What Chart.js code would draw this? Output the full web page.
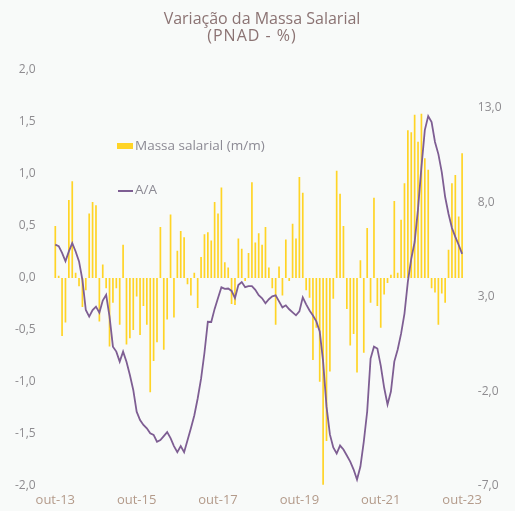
<!DOCTYPE html>
<html>
<head>
<meta charset="utf-8">
<script src="https://cdn.jsdelivr.net/npm/chart.js@4"></script>
<style>
    body { margin: 0; background: #f8faf9; }
    .wrap { width: 515px; height: 511px; position: relative; }
</style>
</head>
<body>
<div class="wrap"><canvas id="massaChart"></canvas></div>
<script>
// Massa salarial (PNAD), mensal de out-13 a out-23
const meses = ['jan', 'fev', 'mar', 'abr', 'mai', 'jun', 'jul', 'ago', 'set', 'out', 'nov', 'dez'];
const tickLabels = ['out-13', 'out-15', 'out-17', 'out-19', 'out-21', 'out-23'];

// variação mês contra mês (%)
const massaMM = [
    0.50, 0.02, -0.56, -0.43, 0.75, 0.93, 0.05, -0.08, -0.28, -0.12, 0.62, 0.73,
    0.70, -0.42, 0.13, -0.10, -0.66, -0.24, -0.10, -0.45, 0.32, -0.64, -0.58, -0.50,
    -0.18, -0.55, -0.27, -0.45, -1.10, -0.80, -0.62, 0.49, -0.69, -0.40, 0.61, -0.38,
    0.26, 0.45, 0.39, -0.06, -0.17, 0.05, -0.29, 0.20, 0.42, 0.44, 0.36, 0.73,
    0.62, 0.87, 0.15, 0.10, -0.25, -0.26, 0.38, 0.28, -0.03, 0.24, 0.92, 0.34,
    0.43, 0.32, 0.49, 0.10, -0.10, -0.45, 0.11, -0.17, 0.37, -0.03, 0.52, 0.38,
    0.97, 0.82, -0.12, -0.19, -0.79, -0.48, -1.00, -1.99, -1.57, -0.90, -0.20, 1.03,
    0.81, 0.50, -0.30, -0.65, -0.54, -0.91, 0.17, -0.72, 0.48, -0.24, 0.77, -0.27,
    -0.48, -0.16, -0.05, 0.03, 0.74, 0.05, 0.56, 0.91, 1.42, 1.40, 1.57, 1.31,
    1.58, 1.15, 1.04, -0.10, -0.14, -0.45, -0.15, -0.24, 0.27, 0.91, 0.99, 0.59,
    1.20
];

// variação contra o mesmo mês do ano anterior (%)
const massaAA = [
    5.76, 5.68, 5.32, 4.88, 5.40, 5.84, 5.40, 4.87, 3.90, 2.30, 1.95, 2.30,
    2.48, 2.16, 2.80, 3.10, 1.95, 0.36, 0.10, -0.43, 0.10, -0.44, -1.14, -1.93,
    -3.08, -3.52, -3.78, -3.96, -4.22, -4.31, -4.67, -4.58, -4.37, -4.16, -4.48, -4.90,
    -5.22, -4.90, -5.22, -4.59, -3.96, -3.28, -2.38, -1.33, 0.04, 1.68, 1.67, 2.36,
    2.94, 3.50, 3.42, 3.44, 3.31, 2.93, 3.62, 3.78, 3.51, 3.56, 3.56, 3.37,
    3.08, 2.92, 2.66, 2.87, 3.02, 3.08, 2.76, 2.44, 2.55, 2.34, 2.18, 2.02,
    2.23, 2.97, 2.60, 2.28, 2.01, 1.70, 1.17, -0.42, -2.80, -4.28, -4.97, -5.29,
    -4.87, -5.08, -5.40, -5.72, -6.14, -6.67, -5.98, -4.66, -3.07, -0.27, 0.36, 0.26,
    -0.64, -1.80, -2.70, -2.01, -0.43, 0.21, 1.05, 2.11, 3.80, 5.01, 5.90, 7.65,
    9.86, 11.82, 12.56, 12.24, 11.19, 10.55, 9.60, 8.28, 7.38, 6.64, 6.17, 5.74,
    5.27
];

const categorias = [];
for (let i = 0; i < massaMM.length; i++) {
    const m = (9 + i) % 12;
    const ano = 13 + Math.floor((9 + i) / 12);
    categorias.push(meses[m] + '-' + ano);
}

const fmt = v => v.toFixed(1).replace('.', ',');
const FONT = "'Open Sans', 'Noto Sans', sans-serif";
const corBarra = '#ffd426';
const corLinha = '#7e5e93';

const tituloLegenda = {
    id: 'tituloLegenda',
    afterDraw(chart) {
        const c = chart.ctx;
        c.save();
        c.fillStyle = '#8b7373';
        c.font = '16px ' + FONT;
        c.textAlign = 'center';
        c.textBaseline = 'middle';
        c.fillText('Variação da Massa Salarial', 262, 19);
        c.letterSpacing = '1px';
        c.fillText('(PNAD - %)', 252, 36);
        c.letterSpacing = '0px';

        c.textAlign = 'left';
        c.font = '13.5px ' + FONT;
        c.fillStyle = corBarra;
        c.fillRect(117, 143, 16, 6);
        c.fillStyle = '#8c8a94';
        c.fillText(chart.data.datasets[0].label, 135, 146);

        c.strokeStyle = corLinha;
        c.lineWidth = 2;
        c.beginPath();
        c.moveTo(118, 191);
        c.lineTo(133, 191);
        c.stroke();
        c.fillText(chart.data.datasets[1].label, 135, 190);
        c.restore();
    }
};

new Chart(document.getElementById('massaChart'), {
    data: {
        labels: categorias,
        datasets: [
            {
                type: 'bar',
                label: 'Massa salarial (m/m)',
                data: massaMM,
                backgroundColor: corBarra,
                yAxisID: 'y',
                barPercentage: 0.5,
                categoryPercentage: 1,
                order: 1
            },
            {
                type: 'line',
                label: 'A/A',
                data: massaAA,
                borderColor: corLinha,
                borderWidth: 1.8,
                pointRadius: 0,
                tension: 0,
                yAxisID: 'y1',
                order: 0
            }
        ]
    },
    options: {
        responsive: true,
        maintainAspectRatio: false,
        animation: false,
        layout: { padding: { top: 70, left: 0, right: 0, bottom: 0 } },
        plugins: {
            legend: { display: false },
            tooltip: { enabled: false }
        },
        scales: {
            x: {
                grid: { display: false, drawTicks: false },
                border: { display: false },
                afterFit: s => { s.height = 24; },
                ticks: {
                    autoSkip: false,
                    maxRotation: 0,
                    padding: 7,
                    color: '#b39a8a',
                    font: { family: FONT, size: 13 },
                    callback: function (v, i) {
                        const lab = categorias[i];
                        return tickLabels.includes(lab) ? lab : '';
                    }
                }
            },
            y: {
                position: 'left',
                min: -2,
                max: 2,
                grid: { display: false, drawTicks: false },
                border: { display: false },
                afterFit: s => { s.width = 53.6; },
                ticks: {
                    stepSize: 0.5,
                    padding: 18,
                    color: '#8e8c90',
                    font: { family: FONT, size: 12 },
                    callback: v => fmt(v)
                }
            },
            y1: {
                position: 'right',
                min: -7,
                max: 15,
                grid: { display: false, drawTicks: false },
                border: { display: false },
                afterFit: s => { s.width = 51.2; },
                afterBuildTicks: s => {
                    s.ticks = [-7, -2, 3, 8, 13].map(v => ({ value: v }));
                },
                ticks: {
                    padding: 14,
                    color: '#8e8c90',
                    font: { family: FONT, size: 12 },
                    callback: v => fmt(v)
                }
            }
        }
    },
    plugins: [tituloLegenda]
});
</script>
</body>
</html>
